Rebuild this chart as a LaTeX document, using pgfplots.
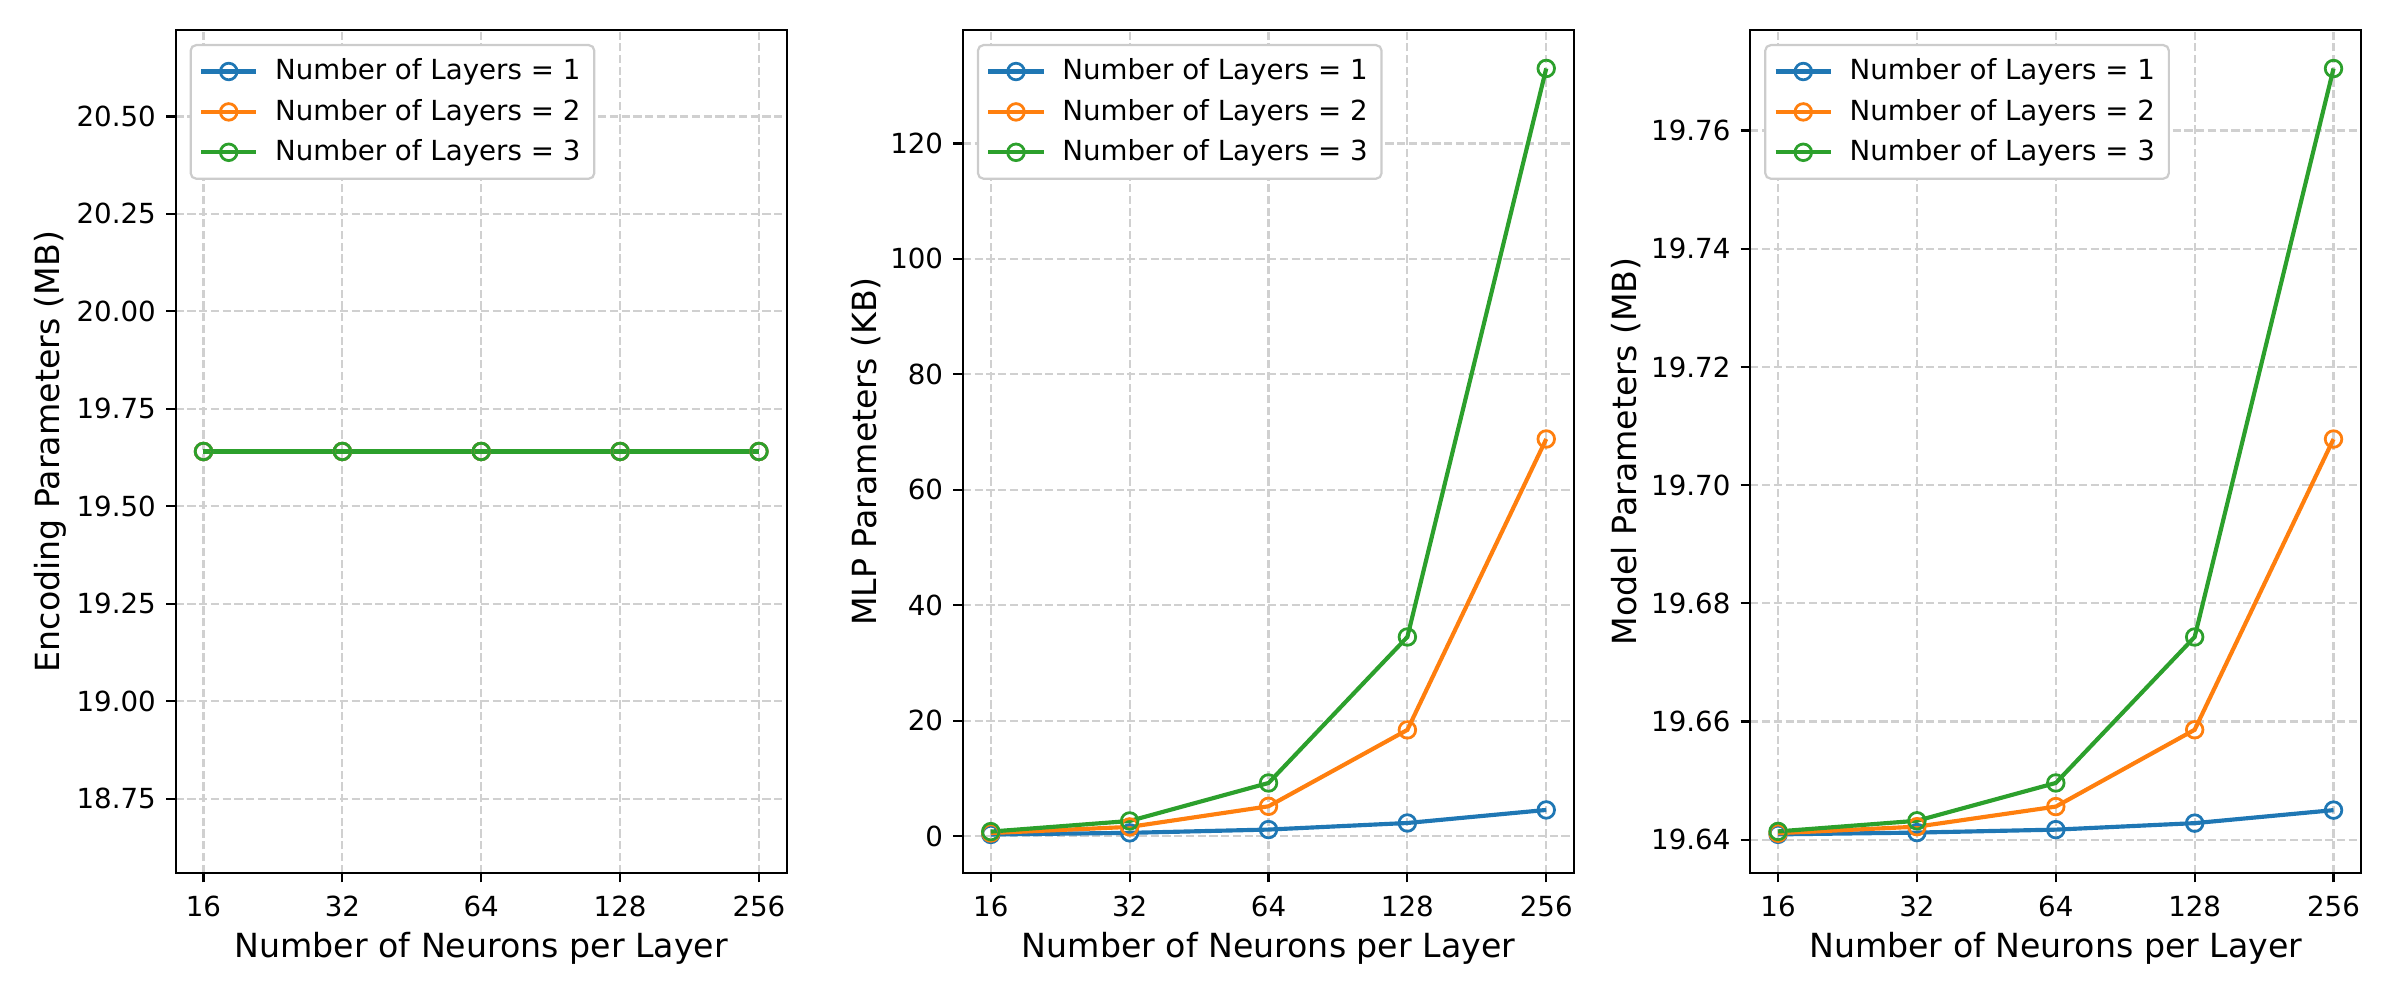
\documentclass[border=0pt]{standalone}
\usepackage{fontspec}
\setmainfont{DejaVu Sans}
\usepackage{pgfplots}
\pgfplotsset{compat=1.18}

\definecolor{c0}{HTML}{1F77B4}
\definecolor{c1}{HTML}{FF7F0E}
\definecolor{c2}{HTML}{2CA02C}
\definecolor{gridc}{HTML}{D0D0D0}
\definecolor{legc}{HTML}{CCCCCC}

% x positions 0..4 stand for 16, 32, 64, 128, 256 neurons (log2 spacing)
\pgfplotsset{
  legend image code/.code={
    \draw[mark repeat=2, mark phase=2, #1] plot coordinates {(0pt,0pt) (10pt,0pt) (20pt,0pt)};},
  mpl/.style={
    scale only axis, width=220.8pt, height=304.5pt,
    xmin=-0.2, xmax=4.2,
    xtick={0,1,2,3,4}, xticklabels={16,32,64,128,256},
    grid=major,
    major grid style={gridc, line width=0.8pt, dash pattern=on 2.96pt off 1.28pt},
    axis line style={line width=0.8pt},
    every tick/.style={black, line width=0.8pt},
    tick align=outside, tick pos=left, major tick length=3.5pt,
    /pgf/number format/assume math mode=true,
    tick label style={font=\fontsize{10}{12}\selectfont},
    xticklabel style={anchor=north, inner sep=0pt, yshift=-4.6pt},
    yticklabel style={anchor=east, inner sep=0pt, xshift=-3.5pt},
    label style={font=\fontsize{12}{14.4}\selectfont},
    xlabel style={yshift=-2.2pt},
    xlabel={Number of Neurons per Layer},
    every axis plot/.append style={line width=1.5pt, mark=o, mark size=3pt,
      mark options={line width=1pt, solid}},
    legend style={at={(0,1)}, anchor=north west, xshift=5pt, yshift=-5pt,
      draw=legc, line width=0.8pt, rounded corners=2pt, fill=white,
      inner xsep=3pt, inner ysep=3pt, row sep=1.5pt, column sep=4pt,
      font=\fontsize{10}{12}\selectfont, cells={anchor=west}},
    anchor=south west,
  },
  twodec/.style={yticklabel style={/pgf/number format/fixed,
      /pgf/number format/fixed zerofill, /pgf/number format/precision=2}},
}

\begin{document}
\begin{tikzpicture}
\useasboundingbox (0,0) rectangle (864.4pt,360.3pt);

% encoding parameters
\begin{axis}[mpl, twodec, at={(63.5pt,44.9pt)},
  ymin=18.5598, ymax=20.7214,
  ytick={18.75,19.00,19.25,19.50,19.75,20.00,20.25,20.50},
  ylabel={Encoding Parameters (MB)}]
\addplot[c0] coordinates {(0,19.6406) (1,19.6406) (2,19.6406) (3,19.6406) (4,19.6406)};
\addlegendentry{Number of Layers = 1}
\addplot[c1] coordinates {(0,19.6406) (1,19.6406) (2,19.6406) (3,19.6406) (4,19.6406)};
\addlegendentry{Number of Layers = 2}
\addplot[c2] coordinates {(0,19.6406) (1,19.6406) (2,19.6406) (3,19.6406) (4,19.6406)};
\addlegendentry{Number of Layers = 3}
\end{axis}

% MLP parameters
\begin{axis}[mpl, at={(348.0pt,44.9pt)},
  ymin=-6.356, ymax=139.636,
  ytick={0,20,40,60,80,100,120},
  ylabel={MLP Parameters (KB)}]
\addplot[c0] coordinates {(0,0.28) (1,0.56) (2,1.13) (3,2.27) (4,4.53)};
\addlegendentry{Number of Layers = 1}
\addplot[c1] coordinates {(0,0.53) (1,1.59) (2,5.16) (3,18.4) (4,68.8)};
\addlegendentry{Number of Layers = 2}
\addplot[c2] coordinates {(0,0.78) (1,2.62) (2,9.2) (3,34.5) (4,133.0)};
\addlegendentry{Number of Layers = 3}
\end{axis}

% model parameters
\begin{axis}[mpl, twodec, at={(632.5pt,44.9pt)},
  ymin=19.6344, ymax=19.7770,
  ytick={19.64,19.66,19.68,19.70,19.72,19.74,19.76},
  ylabel={Model Parameters (MB)}]
\addplot[c0] coordinates {(0,19.6409) (1,19.6412) (2,19.6417) (3,19.6428) (4,19.6450)};
\addlegendentry{Number of Layers = 1}
\addplot[c1] coordinates {(0,19.6411) (1,19.6422) (2,19.6456) (3,19.6586) (4,19.7078)};
\addlegendentry{Number of Layers = 2}
\addplot[c2] coordinates {(0,19.6414) (1,19.6432) (2,19.6496) (3,19.6743) (4,19.7705)};
\addlegendentry{Number of Layers = 3}
\end{axis}
\end{tikzpicture}
\end{document}
